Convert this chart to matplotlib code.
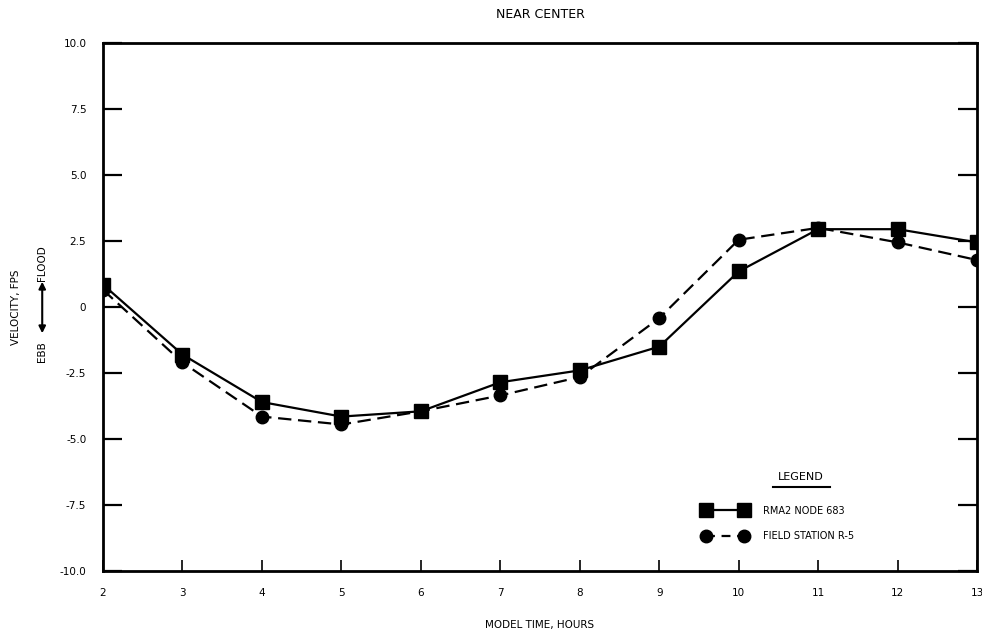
import numpy as np
import matplotlib.pyplot as plt
from matplotlib.lines import Line2D

# dane
hours = [2, 3, 4, 5, 6, 7, 8, 9, 10, 11, 12, 13]
rma2_node = [0.85, -1.8, -3.6, -4.15, -3.95, -2.85, -2.4, -1.5, 1.35, 2.95, 2.95, 2.45]
field_station = [0.65, -2.1, -4.15, -4.45, -3.95, -3.35, -2.65, -0.42, 2.55, 3.0, 2.45, 1.78]

x_ticks = [2, 3, 4, 5, 6, 7, 8, 9, 10, 11, 12, 13]
y_ticks = [10.0, 7.5, 5.0, 2.5, 0, -2.5, -5.0, -7.5, -10.0]
y_labels = ["10.0", "7.5", "5.0", "2.5", "0", "-2.5", "-5.0", "-7.5", "-10.0"]

plt.rcParams["font.family"] = ["DejaVu Sans"]

fig = plt.figure(figsize=(9.82, 6.34), dpi=100)
ax = fig.add_axes([0.1049, 0.0994, 0.8901, 0.8326])

ax.plot(hours, rma2_node, color="black", linewidth=1.6, marker="s", markersize=9.5,
        label="RMA2 NODE 683")
ax.plot(hours, field_station, color="black", linewidth=1.6, linestyle=(0, (6, 3)),
        marker="o", markersize=9, label="FIELD STATION R-5")

ax.set_xlim(2, 13)
ax.set_ylim(-10, 10)
ax.set_xticks(x_ticks)
ax.set_yticks(y_ticks)
ax.set_yticklabels(y_labels)

for s in ax.spines.values():
    s.set_linewidth(2)

ax.tick_params(axis="x", direction="in", length=8, width=1.2, labelsize=7.5, pad=12)
ax.tick_params(axis="y", direction="in", length=14, width=1.6, labelsize=7.5, pad=12,
               right=True)

ax.set_title("NEAR CENTER", fontsize=9, pad=18)
ax.set_xlabel("MODEL TIME, HOURS", fontsize=7.5, labelpad=16)

# etykieta osi y z opisem kierunku
fig.text(0.016, 0.515, "VELOCITY, FPS", rotation=90, fontsize=7.5, ha="center", va="center")
fig.text(0.043, 0.585, "FLOOD", rotation=90, fontsize=7.5, ha="center", va="center")
fig.text(0.043, 0.445, "EBB", rotation=90, fontsize=7.5, ha="center", va="center")
ax.annotate("", xy=(0.043, 0.56), xycoords="figure fraction",
            xytext=(0.043, 0.47), textcoords="figure fraction",
            arrowprops=dict(arrowstyle="<|-|>", color="black", lw=1.5,
                            mutation_scale=10))

# legenda
fig.text(0.815, 0.248, "LEGEND", fontsize=8, ha="center", va="center")
fig.add_artist(Line2D([0.787, 0.845], [0.232, 0.232], color="black", linewidth=1.5))
leg_handles = [
    Line2D([], [], color="black", linewidth=1.6, marker="s", markersize=9.5),
    Line2D([], [], color="black", linewidth=1.6, linestyle=(0, (4, 3)),
           marker="o", markersize=9),
]
ax.legend(leg_handles, ["RMA2 NODE 683", "FIELD STATION R-5"],
          loc="lower left", bbox_to_anchor=(0.677, 0.04), frameon=False,
          fontsize=7, numpoints=2, handlelength=4.5, handletextpad=1.6,
          labelspacing=1.6)

fig.savefig("out.png", dpi=100)
